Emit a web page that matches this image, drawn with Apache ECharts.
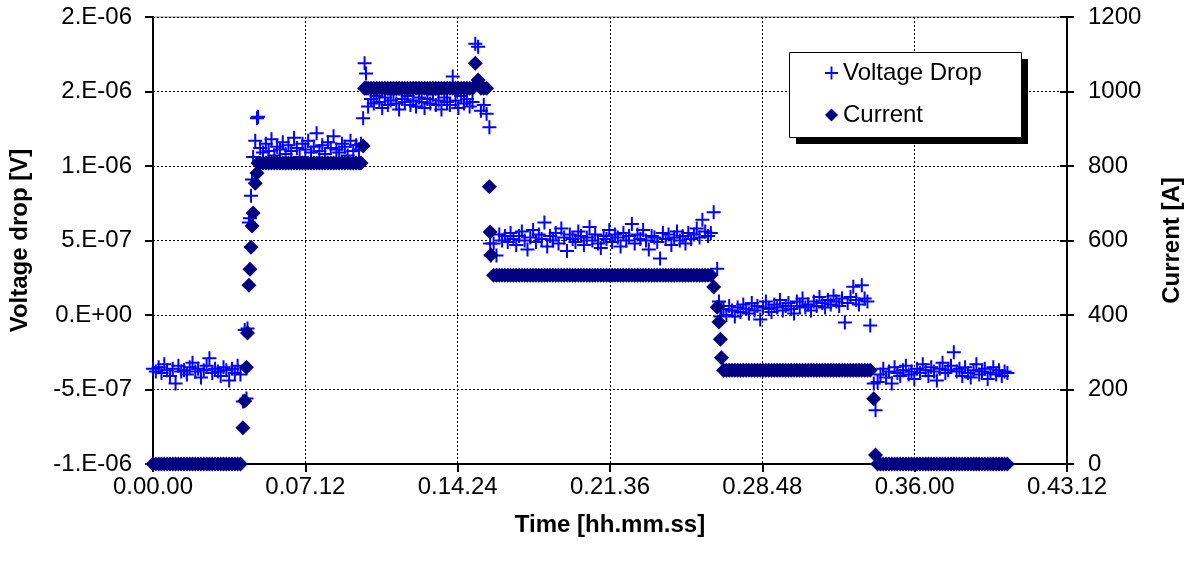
<!DOCTYPE html>
<html>
<head>
<meta charset="utf-8">
<title>Voltage drop and current</title>
<script src="https://cdn.jsdelivr.net/npm/echarts@6/dist/echarts.min.js"></script>
<style>
   html, body { margin: 0; padding: 0; background: #fff; }
   #chart { width: 1193px; height: 566px; }
</style>
</head>
<body>
<div id="chart"></div>
<script>
'use strict';

// sample times, seconds from start of the run
var timeSec = [
   0,8,16,24,32,40,48,56,64,72, 80,88,96,104,112,120,128,136,144,152, 160,168,176,184,192,200,208,216,224,232, 240,248,
   255,260,265,268,272,275,278,281,284,290,295,298,
   304,312,320,328,336,344,352,360,368,376, 384,392,400,408,416,424,432,440,448,456, 464,472,480,488,496,504,512,520,528,536, 544,552,560,568,576,584,
   590,596,600,604,
   610,618,626,634,642,650,658,666,674,682, 690,698,706,714,722,730,738,746,754,762, 770,778,786,794,802,810,818,826,834,842, 850,858,866,874,882,890,898,906,914,922, 930,938,946,
   954,956,958,
   966,974,982,990,998,1006,1014,1022,1030,1038, 1046,1054,1062,1070,1078,1086,1094,1102,1110,1118, 1126,1134,1142,1150,1158,1166,1174,1182,1190,1198,
   1206,1214,1222,1230,1238,1246,1254,1262,1270,1278, 1286,1294,1302,1310,1318,1326,1334,1342,1350,1358, 1366,1374,1382,1390,1398,1406,1414,1422,1430,1438,
   1446,1454,1462,1470,1478,1486,1494,1502,1510,1518, 1526,1534,1542,1550,1558,1566,1574,1582,
   1590,1600,1605,1609,1612,
   1618,1626,1634,1642,1650,1658,1666,1674,1682,1690, 1698,1706,1714,1722,1730,1738,1746,1754,1762,1770, 1778,1786,1794,1802,1810,1818,1826,1834,1842,1850,
   1858,1866,1874,1882,1890,1898,1906,1914,1922,1930, 1938,1946,1954,1962,1970,1978,1986,1994,2002,2010, 2018,2026,2034,
   2044,2049,
   2055,2063,2071,2079,2087,2095,2103,2111,2119,2127, 2135,2143,2151,2159,2167,2175,2183,2191,2199,2207, 2215,2223,2231,2239,2247,2255,2263,2271,2279,2287,
   2295,2303,2311,2319,2327,2335,2343,2351,2359,2367, 2375,2383,2391,2399,2407,2415,2423
];

// voltage drop in units of 1e-8 V
var voltageE8 = [
   -36,-38,-35,-39,-33,-37,-41,-36,-46,-34, -38,-37,-40,-35,-32,-38,-36,-42,-37,-34, -29,-39,-36,-38,-41,-35,-37,-44,-36,-39, -34,-40,
   -58,-10,-56,-9,62,65,80,91,106,117,132,133,
   112,109,115,110,118,107,113,111,116,108, 114,110,119,112,106,115,111,117,109,113, 122,110,114,108,116,112,120,111,109,115, 113,107,117,110,114,111,
   115,132,169,162,
   140,145,142,147,143,139,146,141,144,148, 142,138,145,143,147,141,144,140,146,143, 139,145,142,148,141,144,138,146,143,141, 160,144,139,147,142,145,140,143,182,180, 137,141,135,
   126,48,40,
   48,40,54,50,53,49,55,51,47,53, 56,50,44,52,57,49,54,51,62,46, 53,50,55,48,58,52,43,54,51,49,
   56,53,47,52,59,50,54,48,45,53, 51,57,49,54,52,46,55,50,53,61, 48,54,51,57,50,44,53,52,49,38,
   55,51,54,47,52,56,50,53,48,55, 51,54,58,52,64,56,53,55,
   69,31,9,-1,4,
   4,0,6,3,-1,5,2,7,4,1, 8,3,6,-3,5,9,4,2,7,5, 10,3,6,8,4,1,9,6,11,5,
   7,3,9,6,12,8,5,10,7,13, 9,6,11,-5,8,12,19,10,7,20, 11,9,-7,
   -46,-64,
   -45,-40,-36,-42,-38,-46,-35,-39,-41,-37, -34,-40,-38,-43,-36,-39,-33,-37,-41,-35, -38,-44,-36,-32,-39,-37,-34,-25,-38,-36,
   -41,-35,-39,-42,-37,-33,-40,-38,-36,-43, -39,-35,-40,-37,-41,-38,-39
];

// current [A]
var currentA = [
   0,0,0,0,0,0,0,0,0,0, 0,0,0,0,0,0,0,0,0,0, 0,0,0,0,0,0,0,0,0,0, 0,0,
   97,169,260,352,480,523,582,639,674,754,781,808,
   808,808,808,808,808,808,808,808,808,808, 808,808,808,808,808,808,808,808,808,808, 808,808,808,808,808,808,808,808,808,808, 808,808,808,808,808,808,
   808,854,1009,1009,
   1009,1009,1009,1009,1009,1009,1009,1009,1009,1009, 1009,1009,1009,1009,1009,1009,1009,1009,1009,1009, 1009,1009,1009,1009,1009,1009,1009,1009,1009,1009,
   1009,1009,1009,1009,1009,1009,1009,1009,1076,1031, 1009,1009,1009,
   744,623,561,
   507,507,507,507,507,507,507,507,507,507, 507,507,507,507,507,507,507,507,507,507, 507,507,507,507,507,507,507,507,507,507,
   507,507,507,507,507,507,507,507,507,507, 507,507,507,507,507,507,507,507,507,507, 507,507,507,507,507,507,507,507,507,507,
   507,507,507,507,507,507,507,507,507,507, 507,507,507,507,507,507,507,507,
   475,421,381,335,285,
   252,252,252,252,252,252,252,252,252,252, 252,252,252,252,252,252,252,252,252,252, 252,252,252,252,252,252,252,252,252,252,
   252,252,252,252,252,252,252,252,252,252, 252,252,252,252,252,252,252,252,252,252, 252,252,252,
   175,24,
   0,0,0,0,0,0,0,0,0,0, 0,0,0,0,0,0,0,0,0,0, 0,0,0,0,0,0,0,0,0,0,
   0,0,0,0,0,0,0,0,0,0, 0,0,0,0,0,0,0
];

var timeLabels = ['0.00.00', '0.07.12', '0.14.24', '0.21.36', '0.28.48', '0.36.00', '0.43.12'];
var voltLabels = ['-1.E-06', '-5.E-07', '0.E+00', '5.E-07', '1.E-06', '2.E-06', '2.E-06'];

(function () {
   var font = 'Liberation Sans';
   var plusPath = 'path://M6,0H8V6H14V8H8V14H6V8H0V6H6Z';
   var gridDash = { color: '#000', width: 1, type: [2, 2] };
   var titleStyle = { fontFamily: font, fontSize: 24, fontWeight: 'bold', color: '#000' };

   var voltData = timeSec.map(function (t, i) { return [t, voltageE8[i]]; });
   var currData = timeSec.map(function (t, i) { return [t, currentA[i]]; });

   var myChart = echarts.init(document.getElementById('chart'));

   var option = {
      animation: false,
      backgroundColor: '#fff',
      grid: {
         left: 153, right: 126, top: 17, bottom: 102,
         show: true, borderColor: '#808080', borderWidth: 1, backgroundColor: '#fff'
      },
      // legend frame with its hard black shadow
      graphic: [
         { type: 'rect', z: 1, shape: { x: 796, y: 59, width: 232, height: 85 }, style: { fill: '#000' } },
         { type: 'rect', z: 2, shape: { x: 789.5, y: 52.5, width: 232, height: 85 }, style: { fill: '#fff', stroke: '#000', lineWidth: 1 } }
      ],
      legend: {
         orient: 'vertical',
         left: 789, top: 52,
         padding: [9, 37, 10, 36],
         itemGap: 18, itemWidth: 13, itemHeight: 13,
         z: 10,
         textStyle: { fontFamily: font, fontSize: 24, color: '#000' },
         data: [
            { name: 'Voltage Drop', icon: plusPath },
            { name: 'Current', icon: 'diamond' }
         ]
      },
      xAxis: {
         type: 'value',
         min: 0, max: 2592, interval: 432,
         name: 'Time [hh.mm.ss]',
         nameLocation: 'middle', nameGap: 49,
         nameTextStyle: titleStyle,
         axisLine: { onZero: false, lineStyle: { color: '#000', width: 2 } },
         axisTick: { length: 8, lineStyle: { color: '#000', width: 2 } },
         axisLabel: {
            margin: 11, fontFamily: font, fontSize: 24, color: '#000',
            formatter: function (v) { return timeLabels[Math.round(v / 432)]; }
         },
         splitLine: { lineStyle: gridDash }
      },
      yAxis: [
         {
            type: 'value',
            min: -100, max: 200, interval: 50,
            name: 'Voltage drop [V]',
            nameLocation: 'middle', nameGap: 121,
            nameTextStyle: titleStyle,
            axisLine: { show: true, lineStyle: { color: '#000', width: 2 } },
            axisTick: { show: true, length: 8, lineStyle: { color: '#000', width: 2 } },
            axisLabel: {
               margin: 21, fontFamily: font, fontSize: 24, color: '#000',
               formatter: function (v) { return voltLabels[Math.round((v + 100) / 50)]; }
            },
            splitLine: { lineStyle: gridDash }
         },
         {
            type: 'value',
            position: 'right',
            min: 0, max: 1200, interval: 200,
            name: 'Current [A]',
            nameLocation: 'middle', nameGap: 93,
            nameTextStyle: titleStyle,
            axisLine: { show: true, lineStyle: { color: '#000', width: 2 } },
            axisTick: { show: true, length: 7, lineStyle: { color: '#000', width: 2 } },
            axisLabel: {
               margin: 21, fontFamily: font, fontSize: 24, color: '#000',
               formatter: function (v) { return String(v); }
            },
            splitLine: { show: false }
         },
         {
            // inner half of the crossing ticks on the right axis
            type: 'value',
            position: 'right',
            min: 0, max: 1200, interval: 200,
            axisLine: { show: false },
            axisTick: { show: true, inside: true, length: 7, lineStyle: { color: '#000', width: 2 } },
            axisLabel: { show: false },
            splitLine: { show: false }
         }
      ],
      series: [
         {
            name: 'Voltage Drop',
            type: 'scatter',
            yAxisIndex: 0,
            symbol: plusPath,
            symbolSize: 14,
            itemStyle: { color: '#0000ff', opacity: 1 },
            data: voltData
         },
         {
            name: 'Current',
            type: 'scatter',
            yAxisIndex: 1,
            symbol: 'diamond',
            symbolSize: 15,
            itemStyle: { color: '#000080', opacity: 1 },
            data: currData
         }
      ]
   };

   myChart.setOption(option);
})();
</script>
</body>
</html>
